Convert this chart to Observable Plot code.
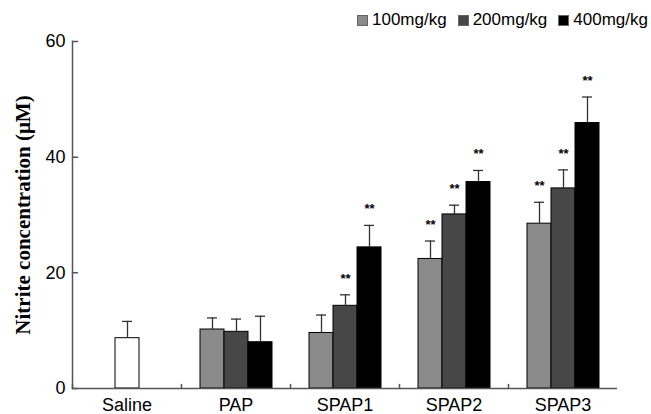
<!DOCTYPE html>
<html><head><meta charset="utf-8">
<script src="https://cdn.jsdelivr.net/npm/d3@7"></script>
<script src="https://cdn.jsdelivr.net/npm/@observablehq/plot@0.6"></script>
<style>
body{margin:0;background:#fff;font-family:"Liberation Sans",Arial,sans-serif;}
#legend{height:30px;display:flex;justify-content:flex-end;align-items:flex-end;padding-right:3px;box-sizing:border-box;font-size:17px;color:#000;}
#legend .item{display:flex;align-items:center;margin-left:11px;line-height:20px;}
#legend .sw{width:9px;height:9px;border:1px solid #666;margin-right:4px;}
svg{display:block;}
</style></head><body>
<div id="legend"></div>
<div id="chart"></div>
<script>
const categories = ["Saline","PAP","SPAP1","SPAP2","SPAP3"];
const doses = ["100mg/kg","200mg/kg","400mg/kg"];
const doseColors = ["#8a8a8a","#474747","#000000"];
const salineLabel = "Saline";
const salineColor = "#ffffff";
const salineMean = 8.7, salineSD = 2.9;
const mean100 = [null, 10.2, 9.6, 22.4, 28.5];
const sd100   = [null, 2.0, 3.1, 3.1, 3.7];
const mean200 = [null, 9.8, 14.3, 30.1, 34.6];
const sd200   = [null, 2.2, 1.9, 1.6, 3.2];
const mean400 = [null, 8.0, 24.4, 35.7, 45.9];
const sd400   = [null, 4.5, 3.8, 2.0, 4.5];
const sig100 = ["","","","**","**"];
const sig200 = ["","","**","**","**"];
const sig400 = ["","","**","**","**"];
const yTicks = [0, 20, 40, 60];
const yTitle = "Nitrite concentration (\u03bcM)";

// build table
const rows = [{cat: salineLabel, slot: doses[1], series: salineLabel, mean: salineMean, sd: salineSD, sig: ""}];
const means = [mean100, mean200, mean400], sds = [sd100, sd200, sd400], sigs = [sig100, sig200, sig400];
categories.forEach((c, i) => {
  doses.forEach((d, j) => {
    if (means[j][i] != null) rows.push({cat: c, slot: d, series: d, mean: means[j][i], sd: sds[j][i], sig: sigs[j][i]});
  });
});
rows.forEach(r => r.top = r.mean + r.sd);

// legend
const lg = document.getElementById("legend");
doses.forEach((d, j) => {
  const it = document.createElement("div"); it.className = "item";
  const sw = document.createElement("div"); sw.className = "sw"; sw.style.background = doseColors[j];
  const tx = document.createElement("span"); tx.textContent = d;
  it.append(sw, tx); lg.append(it);
});

const tickShape = {draw(ctx, l) { ctx.moveTo(0, 0); ctx.lineTo(0, -l); }};
const axisColor = "#555";

const chart = Plot.plot({
  width: 651, height: 384,
  marginLeft: 72, marginRight: 34, marginTop: 11, marginBottom: 26,
  style: {fontFamily: '"Liberation Sans", Arial, sans-serif', background: "#fff", overflow: "visible"},
  fx: {domain: categories, padding: 0, label: null},
  x: {domain: doses, paddingInner: 0, paddingOuter: 0.74, axis: null},
  y: {domain: [0, 60]},
  color: {domain: [salineLabel, ...doses], range: [salineColor, ...doseColors]},
  marks: [
    Plot.barY(rows, {fx: "cat", x: "slot", y: "mean", fill: "series", stroke: "#000", strokeWidth: 1}),
    Plot.ruleX(rows, {fx: "cat", x: "slot", y1: "mean", y2: "top", stroke: "#333", strokeWidth: 1.3}),
    Plot.tickY(rows, {fx: "cat", x: "slot", y: "top", stroke: "#333", strokeWidth: 1.3, insetLeft: 7, insetRight: 7}),
    Plot.text(rows.filter(r => r.sig), {fx: "cat", x: "slot", y: "top", text: "sig", lineAnchor: "bottom", dy: -12, fontSize: 13, fontWeight: "bold"}),
    Plot.ruleY([0], {stroke: axisColor, strokeWidth: 1.5}),
    Plot.frame({anchor: "left", facetAnchor: "left", stroke: axisColor, strokeWidth: 1.5}),
    Plot.vectorY(yTicks, {frameAnchor: "left", rotate: 90, length: 5, anchor: "start", shape: tickShape, facetAnchor: "left", stroke: axisColor, strokeWidth: 1.5}),
    Plot.vectorY([0], {frameAnchor: "left", length: 4, anchor: "start", shape: tickShape, stroke: axisColor, strokeWidth: 1.5}),
    Plot.axisY({ticks: yTicks, tickSize: 0, tickPadding: 7, fontSize: 18, label: null}),
    Plot.axisFx({anchor: "bottom", tickSize: 0, tickPadding: 10, fontSize: 18, label: null}),
    Plot.text([yTitle], {frameAnchor: "left", textAnchor: "middle", lineAnchor: "middle", rotate: -90, dx: -49, fontSize: 21, fontWeight: "bold", fontFamily: '"Liberation Serif", "Times New Roman", serif', facetAnchor: "left"})
  ]
});
document.getElementById("chart").append(chart);
</script>
</body></html>
